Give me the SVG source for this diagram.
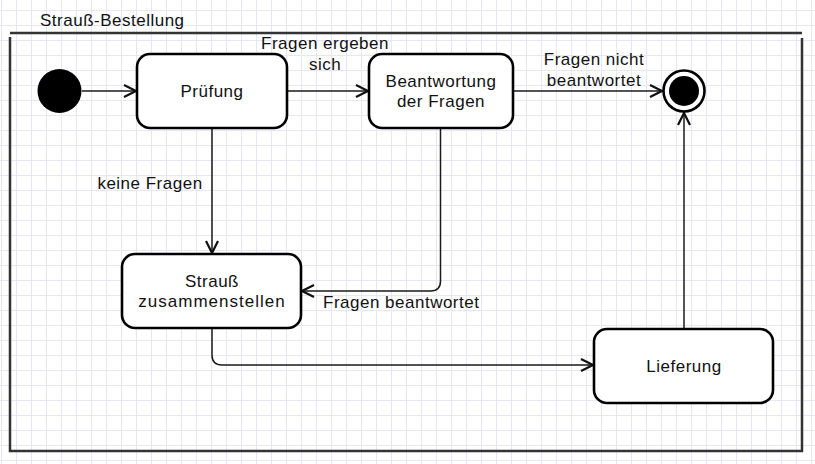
<svg xmlns="http://www.w3.org/2000/svg" width="815" height="464" viewBox="0 0 815 464">
  <defs>
    <pattern id="grid" patternUnits="userSpaceOnUse" x="1" y="10" width="15" height="15">
      <path d="M0.5 0 V15 M0 0.5 H15" stroke="#e6e6f6" stroke-width="1" fill="none"/>
    </pattern>
    <marker id="arrow" markerUnits="userSpaceOnUse" markerWidth="16" markerHeight="16" refX="13" refY="7" orient="auto" viewBox="0 0 16 14">
      <path d="M1,1 L13,7 L1,13" fill="none" stroke="#111" stroke-width="2.2" stroke-linejoin="miter"/>
    </marker>
  </defs>
  <style>
    text { font-family: "Liberation Sans", Arial, sans-serif; font-size: 17px; fill: #111; letter-spacing: 0.5px; }
    .node rect { fill: #fff; stroke: #000; stroke-width: 2.6; }
    .mid { text-anchor: middle; }
    .conn { fill: none; stroke: #1a1a1a; stroke-width: 1.5; marker-end: url(#arrow); }
    .frame { fill: none; stroke: #333; stroke-width: 2.5; }
  </style>
  <rect x="0" y="0" width="815" height="464" fill="#fff"/>
  <rect x="0" y="0" width="815" height="464" fill="url(#grid)"/>

  <g id="frame">
    <path class="frame" d="M10 33 H802"/>
    <path class="frame" d="M10 37 V451 H803"/>
    <path class="frame" d="M802 38 V452"/>
    <text x="40" y="26">Strauß-Bestellung</text>
  </g>

  <g id="connectors">
    <path class="conn" d="M82 91 H136"/>
    <path class="conn" d="M287 91 H368"/>
    <path class="conn" d="M513 91 H662"/>
    <path class="conn" d="M212 128 V253"/>
    <path class="conn" d="M440.5 128 V281 Q440.5 291 430.5 291 H302"/>
    <path class="conn" d="M212 328 V355 Q212 365 222 365 H593"/>
    <path class="conn" d="M684 328 V113"/>
    <text class="mid" x="325" y="49">Fragen ergeben</text>
    <text class="mid" x="325" y="70">sich</text>
    <text class="mid" x="594" y="65">Fragen nicht</text>
    <text class="mid" x="594" y="86">beantwortet</text>
    <text class="mid" x="150" y="189">keine Fragen</text>
    <text x="323" y="308">Fragen beantwortet</text>
  </g>

  <g id="start">
    <circle cx="59.5" cy="91" r="22" fill="#000"/>
  </g>

  <g id="end">
    <circle cx="684" cy="91" r="20.5" fill="#fff" stroke="#000" stroke-width="2.6"/>
    <circle cx="684" cy="91" r="15" fill="#000"/>
  </g>

  <g id="pruefung" class="node">
    <rect x="137" y="54" width="150" height="74" rx="13"/>
    <text class="mid" x="212" y="97">Prüfung</text>
  </g>

  <g id="beantwortung" class="node">
    <rect x="369" y="54" width="144" height="74" rx="13"/>
    <text class="mid" x="441" y="87">Beantwortung</text>
    <text class="mid" x="441" y="107">der Fragen</text>
  </g>

  <g id="strauss" class="node">
    <rect x="122" y="254" width="179" height="74" rx="13"/>
    <text class="mid" x="212" y="287">Strauß</text>
    <text class="mid" x="212" y="307" style="letter-spacing:1px">zusammenstellen</text>
  </g>

  <g id="lieferung" class="node">
    <rect x="594" y="329" width="179" height="74" rx="13"/>
    <text class="mid" x="684" y="372">Lieferung</text>
  </g>
</svg>
